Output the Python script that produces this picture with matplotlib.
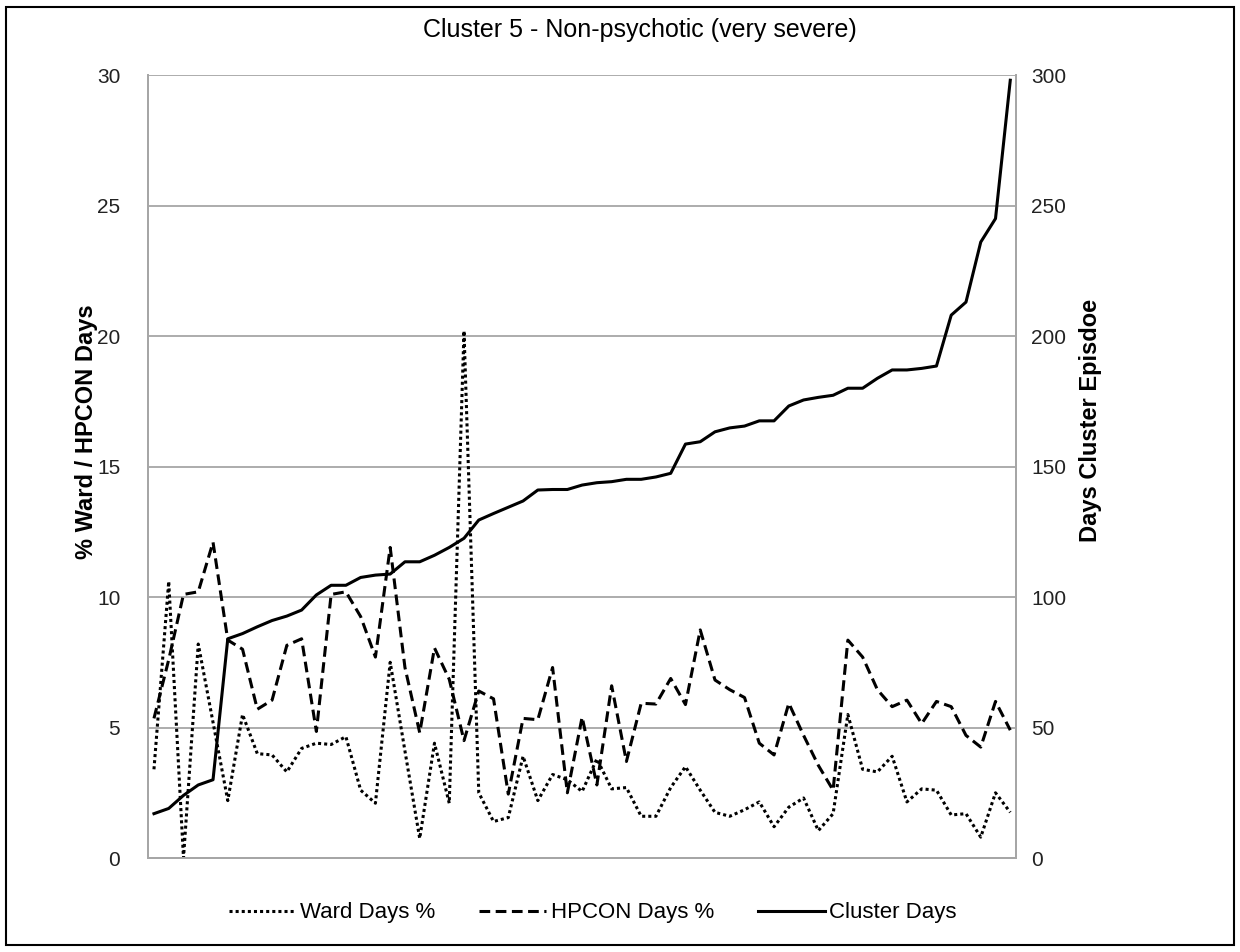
import matplotlib
matplotlib.use("Agg")
import matplotlib.pyplot as plt
from matplotlib.lines import Line2D
from matplotlib.patches import Rectangle
import numpy as np

plt.rcParams["font.family"] = ["Liberation Sans", "DejaVu Sans"]

TITLE = "Cluster 5 - Non-psychotic (very severe)"

# % of days on ward, per episode (left axis)
ward_days = [3.4, 10.6, 0.0, 8.2, 5.2, 2.2, 5.5, 4.0, 3.95, 3.3,
             4.2, 4.4, 4.35, 4.65, 2.6, 2.1, 7.5, 4.1, 0.75, 4.4,
             2.1, 20.2, 2.5, 1.4, 1.55, 3.9, 2.2, 3.2, 3.0, 2.55,
             3.8, 2.65, 2.7, 1.6, 1.6, 2.7, 3.5, 2.6, 1.75, 1.6,
             1.85, 2.15, 1.2, 1.95, 2.3, 1.05, 1.7, 5.5, 3.4, 3.3,
             3.9, 2.15, 2.65, 2.6, 1.65, 1.7, 0.8, 2.5, 1.75]

# % of days in HPCON (left axis)
hpcon_days = [5.35, 7.6, 10.1, 10.2, 12.1, 8.35, 8.0, 5.7, 6.05, 8.15,
              8.4, 4.85, 10.1, 10.2, 9.25, 7.7, 11.9, 7.3, 4.8, 8.05,
              6.85, 4.5, 6.4, 6.1, 2.45, 5.35, 5.3, 7.3, 2.5, 5.4,
              2.8, 6.6, 3.7, 5.93, 5.9, 6.88, 5.88, 8.74, 6.82, 6.45,
              6.15, 4.4, 3.95, 5.93, 4.7, 3.55, 2.6, 8.35, 7.7, 6.45,
              5.8, 6.05, 5.15, 6.0, 5.8, 4.7, 4.25, 6.0, 4.9]

# length of cluster episode in days (right axis)
cluster_days = [17, 19, 24, 28, 30, 84, 86, 88.6, 91, 92.7,
                95, 100.8, 104.5, 104.5, 107.5, 108.4, 108.8, 113.5, 113.5, 116,
                119, 122.5, 129.5, 132, 134.4, 136.8, 141, 141.2, 141.2, 142.9,
                143.8, 144.2, 145.1, 145.1, 146, 147.4, 158.6, 159.5, 163.3, 164.8,
                165.5, 167.5, 167.5, 173.2, 175.5, 176.5, 177.3, 180, 180, 183.8,
                187, 187, 187.6, 188.5, 208, 213, 236, 245, 298]

x = np.arange(len(cluster_days))

fig = plt.figure(figsize=(12.4, 9.52), dpi=100)
ax = fig.add_axes([0.1194, 0.0987, 0.7001, 0.8225])
ax2 = ax.twinx()

grid_col = "#a6a6a6"
lw = 2.2
dotted = (0, (1, 1))
dashed = (0, (3.5, 1.8))

ax.plot(x, ward_days, color="black", lw=lw, linestyle=dotted, dash_capstyle="butt")
ax.plot(x, hpcon_days, color="black", lw=lw, linestyle=dashed, dash_capstyle="butt")
ax2.plot(x, cluster_days, color="black", lw=lw, solid_joinstyle="round")

ax.set_xlim(-0.4, len(x) - 0.6)
ax.set_ylim(0, 30)
ax2.set_ylim(0, 300)
ax.set_yticks(range(0, 31, 5))
ax2.set_yticks(range(0, 301, 50))
ax.set_xticks([])

ax.yaxis.grid(True, color=grid_col, lw=1.3)
ax.set_axisbelow(True)

for a in (ax, ax2):
    a.spines["top"].set_visible(False)
    for s in ("left", "right", "bottom"):
        a.spines[s].set_color(grid_col)
        a.spines[s].set_linewidth(1.3)
    a.tick_params(axis="y", length=0, labelsize=15, colors="#222222")

ax.tick_params(axis="y", pad=20)
ax2.tick_params(axis="y", pad=11)

ax.set_ylabel("% Ward / HPCON Days", fontsize=17, fontweight="bold")
ax.yaxis.set_label_coords(-0.058, 0.544)
ax2.set_ylabel("Days Cluster Episdoe", fontsize=17, fontweight="bold")
ax2.yaxis.set_label_coords(1.072, 0.559)

fig.text(0.516, 0.968, TITLE, ha="center", va="center", fontsize=18)

handles = [
    Line2D([], [], color="black", lw=lw, linestyle=dotted, dash_capstyle="butt"),
    Line2D([], [], color="black", lw=lw, linestyle=dashed, dash_capstyle="butt"),
    Line2D([], [], color="black", lw=lw),
]
fig.legend(handles, ["Ward Days %", "HPCON Days %", "Cluster Days"],
           loc="center", bbox_to_anchor=(0.478, 0.041), ncol=3, frameon=False,
           fontsize=16, handlelength=3.0, handletextpad=0.2, columnspacing=2.0)

# outer chart border
fig.patches.append(Rectangle((0.005, 0.007), 0.99, 0.986, transform=fig.transFigure,
                             fill=False, edgecolor="black", lw=1.5))

fig.savefig("out.png", dpi=100)
